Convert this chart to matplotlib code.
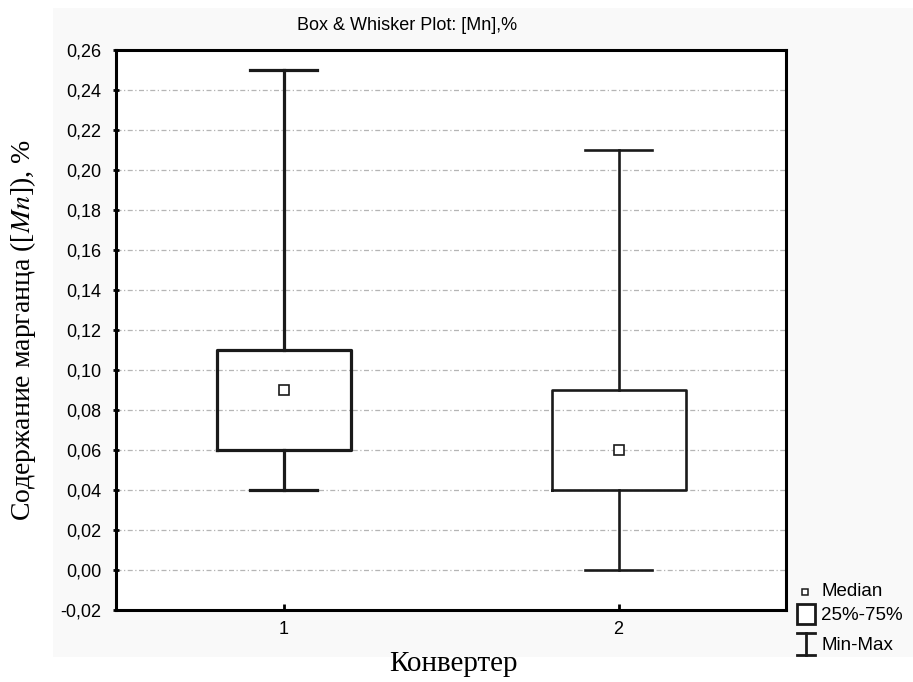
import matplotlib.pyplot as plt
import numpy as np
from matplotlib.patches import Rectangle
from matplotlib.lines import Line2D
from matplotlib.ticker import FuncFormatter, MultipleLocator

plt.rcParams["mathtext.fontset"] = "stix"

# data
converters = ["1", "2"]
mn_min = [0.04, 0.00]
mn_q1 = [0.06, 0.04]
mn_median = [0.09, 0.06]
mn_q3 = [0.11, 0.09]
mn_max = [0.25, 0.21]

W, H = 913, 682
fig = plt.figure(figsize=(W / 100, H / 100), dpi=100)
fig.patch.set_facecolor("white")

# light grey panel behind the plot (statistica style)
fig.add_artist(Rectangle((53 / W, 1 - 657 / H), 1 - 53 / W, (657 - 8) / H,
                         transform=fig.transFigure, facecolor="#f9f9f9",
                         edgecolor="none", zorder=-10))

ax = fig.add_axes([116 / W, 1 - 610 / H, 670 / W, 560 / H])
ax.set_facecolor("white")

stats = []
for i in range(len(converters)):
    stats.append({"whislo": mn_min[i], "q1": mn_q1[i], "med": mn_median[i],
                  "q3": mn_q3[i], "whishi": mn_max[i], "label": converters[i]})

positions = np.arange(1, len(converters) + 1)
parts = ax.bxp(stats, positions=positions, widths=0.4, capwidths=0.2,
               showfliers=False, patch_artist=False,
               boxprops=dict(color="#1a1a1a"), whiskerprops=dict(color="#1a1a1a"),
               capprops=dict(color="#1a1a1a"), medianprops=dict(linewidth=0))
widths_lw = [2.3, 1.9]
for i, lw in enumerate(widths_lw):
    parts["boxes"][i].set_linewidth(lw)
    parts["caps"][2 * i].set_linewidth(lw)
    parts["caps"][2 * i + 1].set_linewidth(lw)
    parts["whiskers"][2 * i].set_linewidth(lw)
    parts["whiskers"][2 * i + 1].set_linewidth(lw)
ax.plot(positions, mn_median, "s", ms=6.5, mfc="white", mec="#1a1a1a", mew=1.2, zorder=5)

ax.set_xlim(0.5, 2.5)
ax.set_ylim(-0.02, 0.26)
ax.yaxis.set_major_locator(MultipleLocator(0.02))
ax.yaxis.set_major_formatter(FuncFormatter(lambda v, p: f"{v:.2f}".replace(".", ",")))
ax.set_xticks(positions)
ax.set_xticklabels(converters)
ax.grid(axis="y", color="#b5b5b5", linestyle=(0, (4, 2, 1, 2)), linewidth=0.9)
ax.set_axisbelow(True)

for s in ax.spines.values():
    s.set_linewidth(2.2)
    s.set_color("black")
ax.tick_params(axis="y", direction="inout", length=5, width=2, labelsize=13, pad=8)
ax.tick_params(axis="x", direction="in", length=4, width=2, labelsize=13, pad=8)
for lab in ax.get_xticklabels() + ax.get_yticklabels():
    lab.set_fontfamily("Liberation Sans")

fig.text(407 / W, 1 - 25 / H, "Box & Whisker Plot: [Mn],%", ha="center", va="center",
         fontsize=13, family="Liberation Sans")

ax.set_ylabel(r"Содержание марганца ([$\mathit{Mn}$]), %", fontsize=20,
              family="Liberation Serif")
ax.yaxis.set_label_coords((38 - 116) / 670, 0.5)
fig.text(453 / W, 1 - 664 / H, "Конвертер", ha="center", va="center",
         fontsize=21, family="Liberation Serif")

# legend drawn in figure pixels
def px(x, y):
    return x / W, 1 - y / H

k = "#1a1a1a"
fig.add_artist(Line2D(*zip(px(805, 592)), marker="s", ms=5, mfc="white", mec=k,
                      mew=1.1, transform=fig.transFigure))
x0, y0 = px(797, 624)
fig.add_artist(Rectangle((x0, y0), 18 / W, 20 / H, transform=fig.transFigure,
                         facecolor="white", edgecolor=k, lw=2))
for xs, ys in [((797, 815), (633, 633)), ((797, 815), (655, 655)), ((806, 806), (633, 655))]:
    fig.add_artist(Line2D([x / W for x in xs], [1 - y / H for y in ys], color=k,
                          lw=2, transform=fig.transFigure))
for txt, y in [("Median", 592), ("25%-75%", 615), ("Min-Max", 645)]:
    fig.text(821 / W, 1 - y / H, txt, ha="left", va="center", fontsize=13.5,
             family="Liberation Sans")

fig.savefig("out.png", dpi=100)
